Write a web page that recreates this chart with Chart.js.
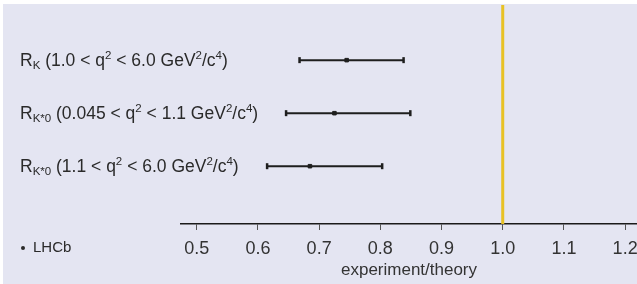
<!DOCTYPE html>
<html>
<head>
<meta charset="utf-8">
<script src="https://cdn.jsdelivr.net/npm/chart.js@4.4.1/dist/chart.umd.min.js"></script>
<style>
  html, body { margin: 0; padding: 0; background: #ffffff; overflow: hidden; }
  canvas { display: block; }
</style>
</head>
<body>
<canvas id="chart" width="637" height="284"></canvas>
<script>
// measurements, top row first
var rowLabels = [
  [["R", "n"], ["K", "sub"], [" (1.0 < q", "n"], ["2", "sup"], [" < 6.0 GeV", "n"], ["2", "sup"], ["/c", "n"], ["4", "sup"], [")", "n"]],
  [["R", "n"], ["K*0", "sub"], [" (0.045 < q", "n"], ["2", "sup"], [" < 1.1 GeV", "n"], ["2", "sup"], ["/c", "n"], ["4", "sup"], [")", "n"]],
  [["R", "n"], ["K*0", "sub"], [" (1.1 < q", "n"], ["2", "sup"], [" < 6.0 GeV", "n"], ["2", "sup"], ["/c", "n"], ["4", "sup"], [")", "n"]]
];
var centers = [0.745, 0.725, 0.685];
var lows = [0.668, 0.646, 0.615];
var highs = [0.838, 0.849, 0.803];
var tickVals = [0.5, 0.6, 0.7, 0.8, 0.9, 1.0, 1.1, 1.2];
var theoryValue = 1.0;
var legendText = "LHCb";

var FONT = "'Liberation Sans', Arial, sans-serif";
var ink = "#1e1e1e";

// one line dataset per error bar
var datasets = [];
centers.forEach(function (c, i) {
  datasets.push({
    type: "scatter",
    showLine: true,
    data: [{ x: lows[i], y: i }, { x: highs[i], y: i }],
    borderColor: ink,
    backgroundColor: ink,
    borderWidth: 2,
    pointStyle: "line",
    rotation: 90,
    pointRadius: 3,
    pointBorderWidth: 2.5
  });
});
// central values
datasets.push({
  type: "scatter",
  data: centers.map(function (c, i) { return { x: c, y: i }; }),
  backgroundColor: ink,
  borderColor: ink,
  pointStyle: "rect",
  pointRadius: 2.5
});
// theory line
datasets.push({
  type: "scatter",
  showLine: true,
  data: [{ x: theoryValue, y: -1.04 }, { x: theoryValue, y: 3.09 }],
  borderColor: "#e8c225",
  borderWidth: 3,
  pointRadius: 0
});

var background = {
  id: "background",
  beforeDraw: function (chart) {
    var ctx = chart.ctx;
    ctx.save();
    ctx.fillStyle = "#ffffff";
    ctx.fillRect(0, 0, chart.width, chart.height);
    ctx.fillStyle = "#e4e5f2";
    ctx.fillRect(3, 4, chart.width - 3, chart.height - 4);
    ctx.restore();
  }
};

var labelText = {
  id: "labelText",
  afterDraw: function (chart) {
    var ctx = chart.ctx;
    var y = chart.scales.y;
    ctx.save();
    ctx.fillStyle = "#2a2a2a";
    ctx.textBaseline = "alphabetic";
    rowLabels.forEach(function (parts, i) {
      var base = y.getPixelForValue(i) + 6;
      var x = 20;
      parts.forEach(function (p) {
        var size = 17.5, dy = 0;
        if (p[1] === "sub") { size = 11.5; dy = 3; }
        if (p[1] === "sup") { size = 11.5; dy = -7.5; }
        ctx.font = size + "px " + FONT;
        ctx.fillText(p[0], x, base + dy);
        x += ctx.measureText(p[0]).width;
      });
    });
    // legend
    ctx.beginPath();
    ctx.arc(23, 248, 2, 0, Math.PI * 2);
    ctx.fill();
    ctx.font = "15px " + FONT;
    ctx.textBaseline = "middle";
    ctx.fillText(legendText, 33, 248);
    ctx.restore();
  }
};

new Chart(document.getElementById("chart"), {
  data: { datasets: datasets },
  plugins: [background, labelText],
  options: {
    responsive: false,
    animation: false,
    layout: { autoPadding: false, padding: { left: 181, top: 5, right: 0, bottom: 0 } },
    plugins: { legend: { display: false }, tooltip: { enabled: false } },
    scales: {
      x: {
        type: "linear",
        min: 0.4743,
        max: 1.2194,
        afterBuildTicks: function (s) {
          s.ticks = tickVals.map(function (v) { return { value: v }; });
        },
        afterFit: function (s) {
          s.height = 60;
          s.paddingLeft = 0;
          s.paddingRight = 0;
        },
        border: { display: true, color: "#1a1a1a", width: 1.5 },
        grid: { drawOnChartArea: false, drawTicks: true, tickLength: 6, color: "#555" },
        ticks: {
          color: "#333",
          font: { family: FONT, size: 18 },
          padding: 8,
          maxRotation: 0,
          autoSkip: false,
          callback: function (v) { return v.toFixed(1); }
        },
        title: {
          display: true,
          text: "experiment/theory",
          color: "#333",
          font: { family: FONT, size: 17 },
          padding: { top: 0, bottom: 3 }
        }
      },
      y: {
        type: "linear",
        reverse: true,
        min: -1.04,
        max: 3.09,
        display: false
      }
    }
  }
});
</script>
</body>
</html>
